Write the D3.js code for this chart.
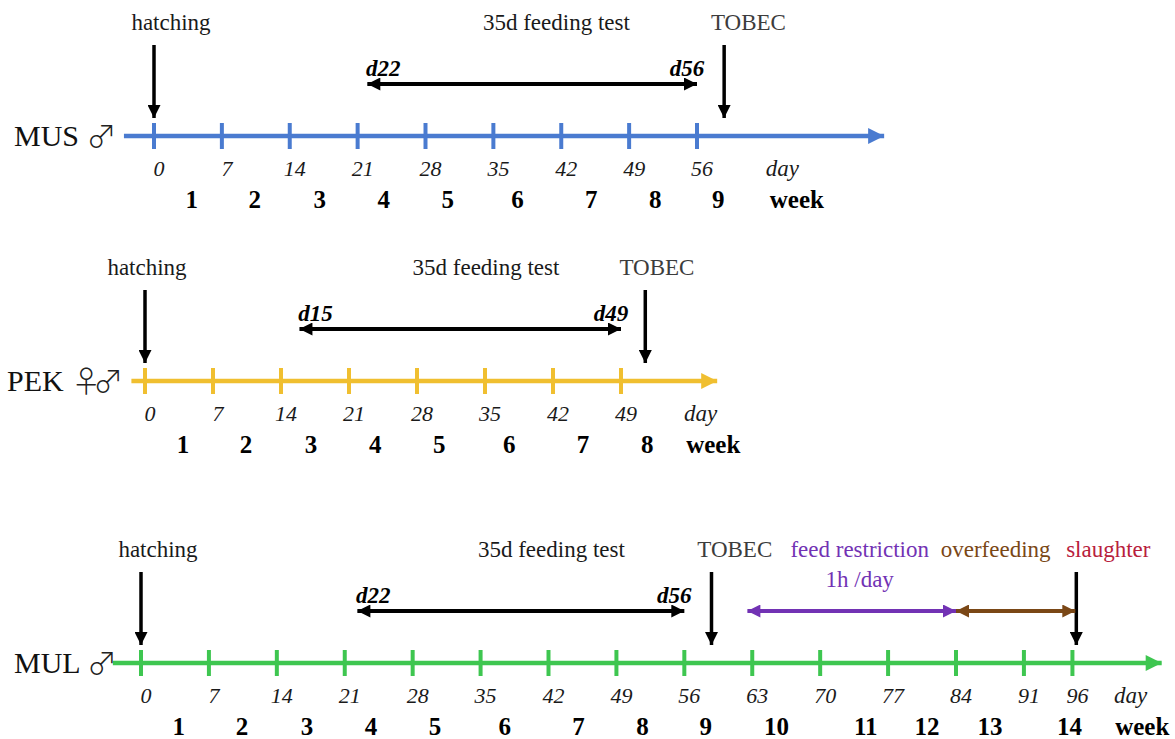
<!DOCTYPE html>
<html>
<head>
<meta charset="utf-8">
<script src="https://cdn.jsdelivr.net/npm/d3@7"></script>
<style>
    body { margin: 0; background: #fff; }
    text { font-family: "Liberation Serif", "Times New Roman", serif; }
</style>
</head>
<body>
<div id="container"></div>
<script>
'use strict';

// day ticks of each timeline
const musDays = [0, 7, 14, 21, 28, 35, 42, 49, 56];
const pekDays = [0, 7, 14, 21, 28, 35, 42, 49];
const mulDays = [0, 7, 14, 21, 28, 35, 42, 49, 56, 63, 70, 77, 84, 91, 96];

// week numbers and where they sit (in days)
const musWeeks = [1, 2, 3, 4, 5, 6, 7, 8, 9];
const pekWeeks = [1, 2, 3, 4, 5, 6, 7, 8];
const mulWeeks = [1, 2, 3, 4, 5, 6, 7, 8, 9, 10, 11, 12, 13, 14];
const weekAt   = [3.9, 10.4, 17.1, 23.7, 30.3, 37.5, 45.1, 51.7, 58.2, 65.5, 74.7, 81.0, 87.5, 95.7];

// events (day)
const musEvents = [{label: 'hatching', day: 0}, {label: 'TOBEC', day: 58.8}];
const pekEvents = [{label: 'hatching', day: 0}, {label: 'TOBEC', day: 51.5}];
const mulEvents = [{label: 'hatching', day: 0}, {label: 'TOBEC', day: 58.8}, {label: 'slaughter', day: 96.4}];

// periods [start, end]
const musPeriods = [{from: 22, to: 56, start: 'd22', end: 'd56', kind: 'feed'}];
const pekPeriods = [{from: 15.9, to: 49, start: 'd15', end: 'd49', kind: 'feed'}];
const mulPeriods = [
    {from: 22.3, to: 56, start: 'd22', end: 'd56', kind: 'feed'},
    {from: 62.5, to: 84, kind: 'restrict'},
    {from: 84, to: 96.3, kind: 'over'}
];

const color = {
    mus: '#4a7bd0',
    pek: '#f0bf30',
    mul: '#3ec650',
    text: '#1a1a1a',
    tobec: '#3c3c3c',
    feed: '#000',
    restrict: '#7232b4',
    over: '#7a4716',
    slaughter: '#b8203c'
};

const svg = d3.select('#container')
    .append('svg')
    .attr('width', 1175)
    .attr('height', 739);

const defs = svg.append('defs');
function marker(id, fill, w, h) {
    defs.append('marker')
        .attr('id', id)
        .attr('viewBox', '0 0 10 10')
        .attr('refX', 10).attr('refY', 5)
        .attr('markerUnits', 'userSpaceOnUse')
        .attr('markerWidth', w).attr('markerHeight', h)
        .attr('orient', 'auto-start-reverse')
        .append('path')
        .attr('d', 'M0,0 L10,5 L0,10 Z')
        .attr('fill', fill);
}
marker('head-black', '#000', 16, 13);
marker('head-restrict', color.restrict, 16, 13);
marker('head-over', color.over, 16, 13);
marker('head-mus', color.mus, 18, 16);
marker('head-pek', color.pek, 18, 16);
marker('head-mul', color.mul, 18, 16);

const rows = [
    {
        name: 'MUS', sex: '♂', key: 'mus', y: 136, px0: 154, px1: 697, d1: 56,
        extent: [-3.1, 75.3], days: musDays, weeks: musWeeks,
        dayUnit: 64.8, weekUnit: 66.3,
        events: musEvents, periods: musPeriods, feedLabel: 41.5, tobecLabel: 61.3
    },
    {
        name: 'PEK', sex: '♀♂', key: 'pek', y: 381, px0: 145, px1: 621, d1: 49,
        extent: [-1.4, 58.9], days: pekDays, weeks: pekWeeks,
        dayUnit: 57.2, weekUnit: 58.5,
        events: pekEvents, periods: pekPeriods, feedLabel: 35.1, tobecLabel: 52.7
    },
    {
        name: 'MUL', sex: '♂', key: 'mul', y: 663, px0: 141, px1: 956, d1: 84,
        extent: [-2.9, 105.2], days: mulDays, weeks: mulWeeks,
        dayUnit: 102.0, weekUnit: 103.2,
        events: mulEvents, periods: mulPeriods, feedLabel: 42.3, tobecLabel: 61.2
    }
];

function drawRow(r) {
    const x = d3.scaleLinear().domain([0, r.d1]).range([r.px0, r.px1]);
    const g = svg.append('g');
    const c = color[r.key];

    // axis line with arrow
    g.append('line')
        .attr('x1', x(r.extent[0])).attr('x2', x(r.extent[1]))
        .attr('y1', r.y).attr('y2', r.y)
        .attr('stroke', c).attr('stroke-width', 4.5)
        .attr('marker-end', 'url(#head-' + r.key + ')');

    // ticks
    g.selectAll('.tick').data(r.days).enter().append('line')
        .attr('x1', d => x(d)).attr('x2', d => x(d))
        .attr('y1', r.y - 13).attr('y2', r.y + 13)
        .attr('stroke', c).attr('stroke-width', 4);

    // day labels
    g.selectAll('.day').data(r.days).enter().append('text')
        .attr('x', d => x(d) + 5).attr('y', r.y + 40)
        .attr('text-anchor', 'middle')
        .attr('font-style', 'italic').attr('font-size', 22)
        .attr('fill', color.text)
        .text(d => d);
    g.append('text')
        .attr('x', x(r.dayUnit)).attr('y', r.y + 40)
        .attr('text-anchor', 'middle')
        .attr('font-style', 'italic').attr('font-size', 23)
        .attr('fill', color.text)
        .text('day');

    // week labels
    g.selectAll('.week').data(r.weeks).enter().append('text')
        .attr('x', (d, i) => x(weekAt[i])).attr('y', r.y + 72)
        .attr('text-anchor', 'middle')
        .attr('font-weight', 'bold').attr('font-size', 25)
        .attr('fill', '#000')
        .text(d => d);
    g.append('text')
        .attr('x', x(r.weekUnit)).attr('y', r.y + 72)
        .attr('text-anchor', 'middle')
        .attr('font-weight', 'bold').attr('font-size', 25)
        .attr('fill', '#000')
        .text('week');

    // row name
    const nm = g.append('text')
        .attr('x', r.key == 'pek' ? 7 : 14).attr('y', r.y + 10)
        .attr('font-size', 30)
        .attr('fill', '#111');
    nm.append('tspan').text(r.name + ' ');
    nm.append('tspan')
        .attr('font-family', '"Noto Sans CJK JP", "Noto Sans CJK SC", sans-serif')
        .attr('font-size', 30)
        .attr('font-weight', 300)
        .attr('fill', '#222')
        .attr('letter-spacing', -8)
        .attr('dy', 1)
        .text(r.sex);

    // event arrows + labels
    r.events.forEach(e => {
        g.append('line')
            .attr('x1', x(e.day)).attr('x2', x(e.day))
            .attr('y1', r.y - 91).attr('y2', r.y - 18)
            .attr('stroke', '#000').attr('stroke-width', 3.5)
            .attr('marker-end', 'url(#head-black)');
        let lx = x(e.day) + 17;
        let fill = color.text;
        if (e.label == 'TOBEC') { lx = x(r.tobecLabel); fill = color.tobec; }
        if (e.label == 'slaughter') { lx = x(e.day) + 32; fill = color.slaughter; }
        g.append('text')
            .attr('x', e.label == 'hatching' && r.key == 'pek' ? x(e.day) + 2 : lx)
            .attr('y', r.y - 106)
            .attr('text-anchor', 'middle')
            .attr('font-size', 23)
            .attr('fill', fill)
            .text(e.label);
    });

    // periods
    r.periods.forEach(p => {
        const head = p.kind == 'feed' ? 'head-black' : 'head-' + p.kind;
        const stroke = p.kind == 'feed' ? '#000' : color[p.kind];
        const py = r.y - 52;
        g.append('line')
            .attr('x1', x(p.from)).attr('x2', x(p.to))
            .attr('y1', py).attr('y2', py)
            .attr('stroke', stroke).attr('stroke-width', 4)
            .attr('marker-start', 'url(#' + head + ')')
            .attr('marker-end', 'url(#' + head + ')');

        if (p.kind == 'feed') {
            g.append('text')
                .attr('x', x(p.from) + 16).attr('y', py - 8)
                .attr('text-anchor', 'middle')
                .attr('font-style', 'italic').attr('font-weight', 'bold')
                .attr('font-size', 23).attr('fill', '#000')
                .text(p.start);
            g.append('text')
                .attr('x', x(p.to) - 10).attr('y', py - 8)
                .attr('text-anchor', 'middle')
                .attr('font-style', 'italic').attr('font-weight', 'bold')
                .attr('font-size', 23).attr('fill', '#000')
                .text(p.end);
            g.append('text')
                .attr('x', x(r.feedLabel)).attr('y', r.y - 106)
                .attr('text-anchor', 'middle')
                .attr('font-size', 23).attr('fill', color.text)
                .text('35d feeding test');
        } else if (p.kind == 'restrict') {
            const mid = x((p.from + p.to) / 2) + 8;
            g.append('text')
                .attr('x', mid).attr('y', r.y - 106)
                .attr('text-anchor', 'middle')
                .attr('font-size', 23).attr('fill', color.restrict)
                .text('feed restriction');
            g.append('text')
                .attr('x', mid).attr('y', r.y - 76)
                .attr('text-anchor', 'middle')
                .attr('font-size', 23).attr('fill', color.restrict)
                .text('1h /day');
        } else {
            g.append('text')
                .attr('x', x((p.from + p.to) / 2) - 20).attr('y', r.y - 106)
                .attr('text-anchor', 'middle')
                .attr('font-size', 23).attr('fill', color.over)
                .text('overfeeding');
        }
    });
}

rows.forEach(drawRow);
</script>
</body>
</html>
